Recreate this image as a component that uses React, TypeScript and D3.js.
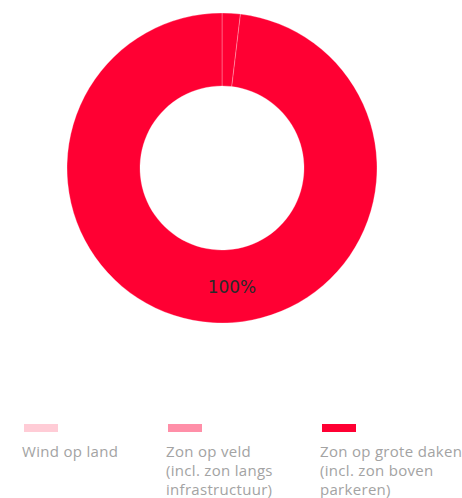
import React, { useEffect, useRef } from 'react'
import * as d3 from 'd3'

// categories and values (share in %)
const categories = ['Wind op land', 'Zon op veld', 'Zon op grote daken']
const legendLines = [
    ['Wind op land'],
    ['Zon op veld', '(incl. zon langs', 'infrastructuur)'],
    ['Zon op grote daken', '(incl. zon boven', 'parkeren)'],
]
const values = [0, 1.9, 98.1]
const sliceLabels = ['', '', '100%']
const legendColors = ['#ffccd6', '#ff8fa8', '#ff0033']

const width = 462
const height = 498
const cx = 222
const cy = 168
const outerR = 155
const innerR = 82
const legendCols = [24, 168, 322]

const App = () => {
    const svgRef = useRef<SVGSVGElement>(null)

    useEffect(() => {
        const svg = d3.select(svgRef.current)
        svg.selectAll('*').remove()

        const data = categories.map((name, i) => ({ name, value: values[i], label: sliceLabels[i] }))

        const pie = d3.pie<any>().sort(null).value((d) => d.value)
        const arc = d3.arc<any>().innerRadius(innerR).outerRadius(outerR)
        const arcs = pie(data)

        const g = svg.append('g').attr('transform', `translate(${cx},${cy})`)

        // all slices drawn in the active red, like the picture
        g.selectAll('path')
            .data(arcs)
            .enter()
            .append('path')
            .attr('d', arc)
            .attr('fill', '#ff0033')
            .attr('stroke', 'rgba(255,255,255,0.35)')
            .attr('stroke-width', 0.8)

        g.selectAll('text')
            .data(arcs.filter((d) => d.data.label))
            .enter()
            .append('text')
            .attr('x', (d) => arc.centroid(d)[0] + 17)
            .attr('y', (d) => arc.centroid(d)[1] + 7)
            .attr('text-anchor', 'middle')
            .attr('font-family', 'DejaVu Sans, sans-serif')
            .attr('font-size', 17)
            .attr('fill', '#2a2a2a')
            .text((d) => d.data.label)

        // legend
        const legend = svg.append('g')
        categories.forEach((name, i) => {
            const lg = legend.append('g').attr('transform', `translate(${legendCols[i]},0)`)
            lg.append('rect')
                .attr('x', 0)
                .attr('y', 424)
                .attr('width', 34)
                .attr('height', 8)
                .attr('fill', legendColors[i])
            legendLines[i].forEach((line, j) => {
                lg.append('text')
                    .attr('x', -2)
                    .attr('y', 457 + j * 19)
                    .attr('font-family', 'Open Sans, sans-serif')
                    .attr('font-size', 15)
                    .attr('letter-spacing', 0.3)
                    .attr('fill', '#a3a3a3')
                    .text(line)
            })
        })
    }, [])

    return (
        <div style={{ position: 'absolute', left: 0, top: 0 }}>
            <svg ref={svgRef} width={width} height={height} style={{ display: 'block' }} />
        </div>
    )
}

export default App
